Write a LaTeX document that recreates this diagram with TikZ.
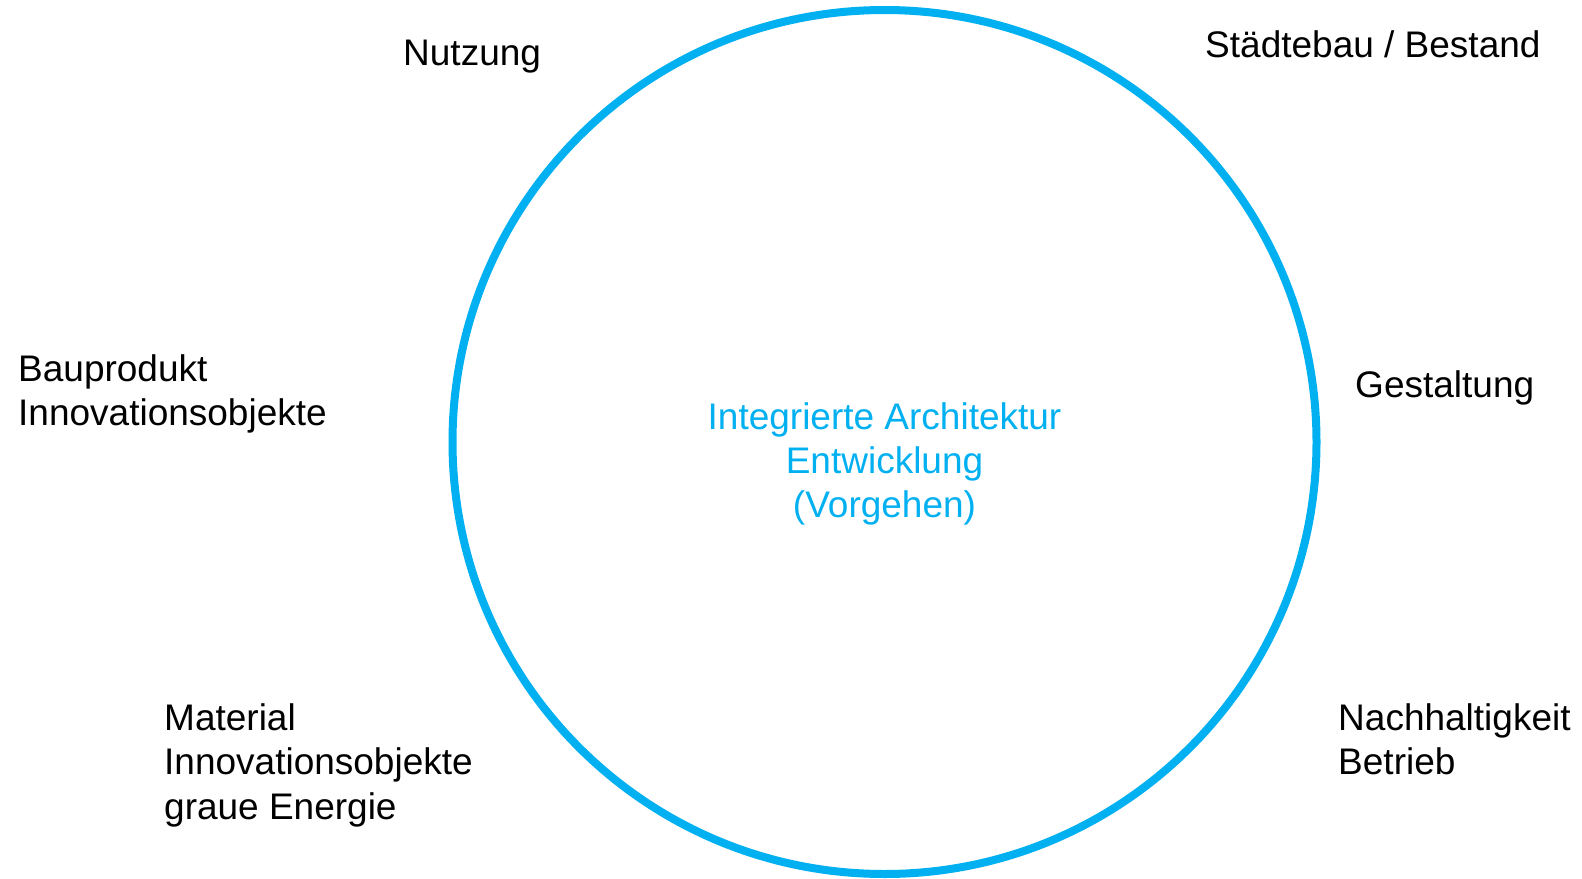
\documentclass[tikz,border=0pt]{standalone}
\usepackage{fontspec}
\setmainfont{Liberation Sans}
\definecolor{ringblue}{HTML}{00B0F0}
\begin{document}
\begin{tikzpicture}[x=1pt,y=-1pt,
  label/.style={inner sep=0pt, anchor=base west, align=left,
    font=\fontsize{37pt}{44.4pt}\selectfont, text=black},
  core/.style={inner sep=0pt, align=center,
    font=\fontsize{37pt}{44.4pt}\selectfont, text=ringblue}]
  \useasboundingbox (0,0) rectangle (1582,878);
  % central ring
  \draw[ringblue, line width=8pt] (884.5,442) circle[radius=432pt];
  % multi-line nodes are placed by the baseline of their last line
  \node[core, anchor=base] (center) at (884.5,517.8) {Integrierte Architektur\\Entwicklung\\(Vorgehen)};
  % surrounding topics
  \node[label] (nutzung) at (403,65) {Nutzung};
  \node[label] (staedtebau) at (1205,57.5) {Städtebau / Bestand};
  \node[label] (bauprodukt) at (18,425.4) {Bauprodukt\\Innovationsobjekte};
  \node[label] (gestaltung) at (1355,397) {Gestaltung};
  \node[label] (material) at (164,819.3) {Material\\Innovationsobjekte\\graue Energie};
  \node[label] (nachhaltigkeit) at (1338,774.9) {Nachhaltigkeit\\Betrieb};
\end{tikzpicture}
\end{document}
